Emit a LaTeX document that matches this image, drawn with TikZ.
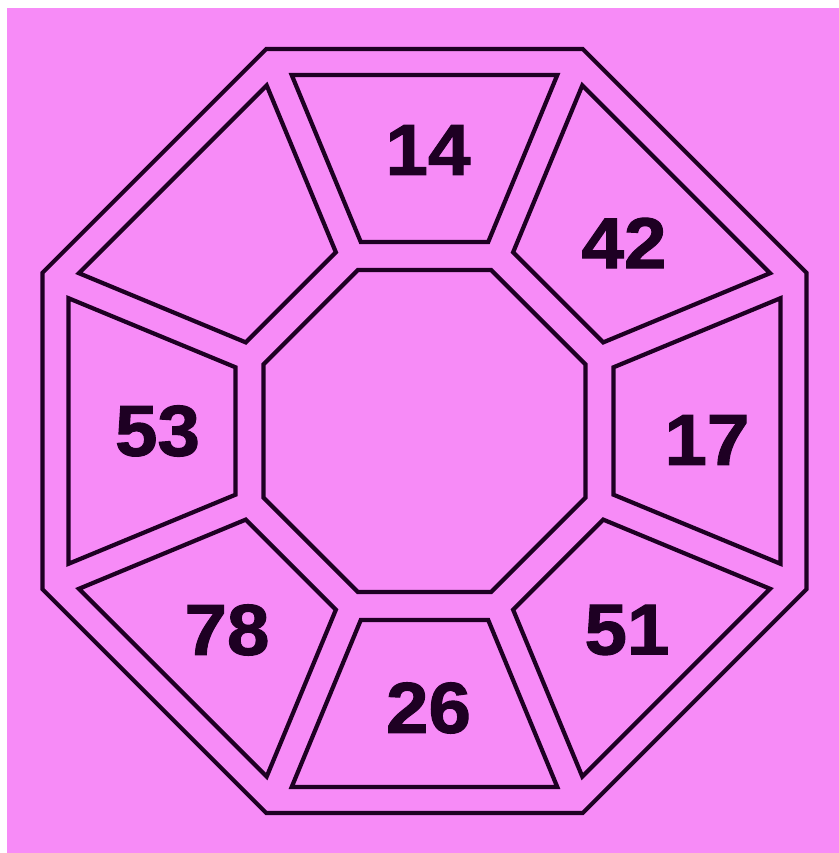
\documentclass[tikz,border=0pt]{standalone}
\usepackage{fontspec}
\setsansfont{Liberation Sans}
\newfontfamily\numfont{Liberation Sans}[BoldFeatures={FakeBold=1.5, FakeStretch=1.06}]
\definecolor{pinkbg}{RGB}{247,139,247}
\definecolor{ink}{RGB}{30,0,35}

\begin{document}
\begin{tikzpicture}[x=0.02cm, y=0.02cm,
    wall/.style={draw=ink, line width=2.4pt, line join=miter},
    cell/.style={draw=ink, line width=2.4pt, line join=miter},
    num/.style={font=\numfont\bfseries\fontsize{41}{41}\selectfont, text=ink, inner sep=0pt}
]
\useasboundingbox (0,0) rectangle (839,853);
\fill[white] (0,0) rectangle (839,853);
\fill[pinkbg] (7,0) rectangle (839,845);

\begin{scope}[shift={(424.5,422)}]
% outer rim and centre
\draw[wall] (22.5:413.5) \foreach \a in {67.5,112.5,157.5,202.5,247.5,292.5,337.5} {-- (\a:413.5)} -- cycle;
\draw[wall] (22.5:174.3) \foreach \a in {67.5,112.5,157.5,202.5,247.5,292.5,337.5} {-- (\a:174.3)} -- cycle;
% eight cells of the ring
\foreach \ang in {0,45,...,315}
  \draw[cell, rotate=\ang] (-132.8,356) -- (132.8,356) -- (63.7,189) -- (-63.7,189) -- cycle;
\end{scope}

\node[num] (n14) at (428,703) {14};
\node[num] (n42) at (624,610) {42};
\node[num] (n17) at (707,413) {17};
\node[num] (n51) at (627,223) {51};
\node[num] (n26) at (428.5,145) {26};
\node[num] (n78) at (227,223) {78};
\node[num] (n53) at (157.5,422) {53};
\end{tikzpicture}
\end{document}
